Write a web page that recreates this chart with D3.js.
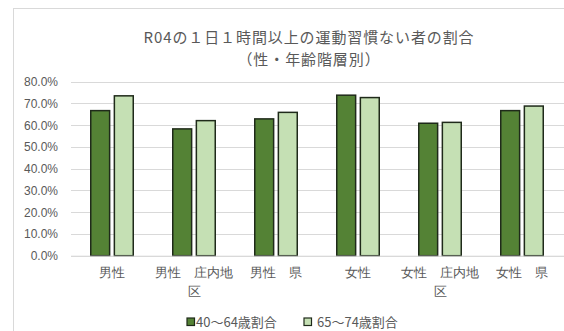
<!DOCTYPE html>
<html><head><meta charset="utf-8">
<script src="https://cdn.jsdelivr.net/npm/d3@7"></script>
<style>
html,body{margin:0;padding:0;background:#fff;}
svg{display:block;font-family:"Noto Sans CJK JP","Noto Sans",sans-serif;}
</style></head>
<body><svg id="c" width="564" height="331"></svg>
<script>
const categories = ["男性","男性　庄内地区","男性　県","女性","女性　庄内地区","女性　県"];
const seriesNames = ["40～64歳割合","65～74歳割合"];
const values40_64 = [0.667, 0.583, 0.629, 0.738, 0.609, 0.667];
const values65_74 = [0.735, 0.621, 0.659, 0.727, 0.613, 0.688];
const yTicks = [0,0.1,0.2,0.3,0.4,0.5,0.6,0.7,0.8];
const titleLines = ["R04の１日１時間以上の運動習慣ない者の割合","（性・年齢階層別）"];
const colors = ["#548235","#c5e0b4"];

const svg = d3.select("#c");
const W = 564, H = 331;
const m = {left:71, right:1, top:81.7, bottom:H-255.7};

// chart area border
svg.append("rect").attr("x",13.5).attr("y",8.5).attr("width",W).attr("height",H)
  .attr("fill","#fff").attr("stroke","#d9d9d9").attr("stroke-width",1);

const x0 = d3.scaleBand().domain(categories).range([m.left, W-m.right]).padding(0);
const x1 = d3.scaleBand().domain(seriesNames)
  .range([x0.bandwidth()/2-21.25, x0.bandwidth()/2+21.25]).paddingInner(0.2);
const y = d3.scaleLinear().domain([0,0.8]).range([H-m.bottom, m.top]);

// title
svg.append("g").selectAll("text").data(titleLines).join("text")
  .attr("x",309).attr("y",(d,i)=>i===0?43:65)
  .attr("text-anchor","middle").attr("font-size",15).attr("letter-spacing",0.9)
  .attr("fill","#595959").text(d=>d);

// grid
const grid = svg.append("g");
grid.selectAll("line").data(yTicks).join("line")
  .attr("x1",m.left).attr("x2",W).attr("y1",d=>Math.round(y(d))+0.5).attr("y2",d=>Math.round(y(d))+0.5)
  .attr("stroke","#d9d9d9").attr("stroke-width",1);

// y axis
const yAxis = d3.axisLeft(y).tickValues(yTicks).tickFormat(d3.format(".1%")).tickSize(0).tickPadding(13);
const ya = svg.append("g").attr("transform",`translate(${m.left},0)`).call(yAxis);
ya.select(".domain").remove();
ya.selectAll("text").attr("font-size",12).attr("fill","#595959").attr("font-family","'Liberation Sans',Arial,sans-serif");

// bars
const data = categories.map((c,i)=>({cat:c, vals:[values40_64[i], values65_74[i]]}));
const groups = svg.append("g").selectAll("g").data(data).join("g")
  .attr("transform",d=>`translate(${x0(d.cat)},0)`);
groups.selectAll("rect").data(d=>d.vals.map((v,j)=>({s:seriesNames[j], v, j}))).join("rect")
  .attr("x",d=>x1(d.s)).attr("width",x1.bandwidth())
  .attr("y",d=>y(d.v)).attr("height",d=>y(0)-y(d.v))
  .attr("fill",d=>colors[d.j]).attr("stroke","#1f2a1a").attr("stroke-width",1.5);

// x axis
const xAxis = d3.axisBottom(x0).tickSize(0).tickPadding(10);
const xa = svg.append("g").attr("transform",`translate(0,${y(0)})`).call(xAxis);
xa.select(".domain").attr("stroke","#d9d9d9").attr("d",`M${m.left},0.5H${W}`);
xa.selectAll("text").attr("font-size",13).attr("fill","#595959").attr("dy","0.9em")
  .each(function(d){
    const t = d3.select(this);
    const maxW = x0.bandwidth()-2;
    t.text(null);
    const chars = Array.from(d);
    let lines = [], cur = "";
    const probe = t.append("tspan");
    for (const ch of chars){
      probe.text(cur+ch);
      if (probe.node().getComputedTextLength() > maxW && cur){ lines.push(cur); cur = ch; }
      else cur += ch;
    }
    lines.push(cur);
    probe.remove();
    lines.forEach((ln,i)=>{
      t.append("tspan").attr("x",0).attr("dy", i===0 ? "0.9em" : "1.4em").text(ln);
    });
  });

// legend
const leg = svg.append("g").attr("font-size",13).attr("fill","#595959");
const legX = [187, 304];
seriesNames.forEach((s,i)=>{
  const g = leg.append("g").attr("transform",`translate(${legX[i]},322)`);
  g.append("rect").attr("x",0).attr("y",-4).attr("width",7.5).attr("height",7.5)
    .attr("fill",colors[i]).attr("stroke","#1f2a1a").attr("stroke-width",1.2);
  g.append("text").attr("x", i===0?9:13).attr("y",0).attr("dy","0.35em").attr("fill","#595959").text(s);
});
</script></body></html>
